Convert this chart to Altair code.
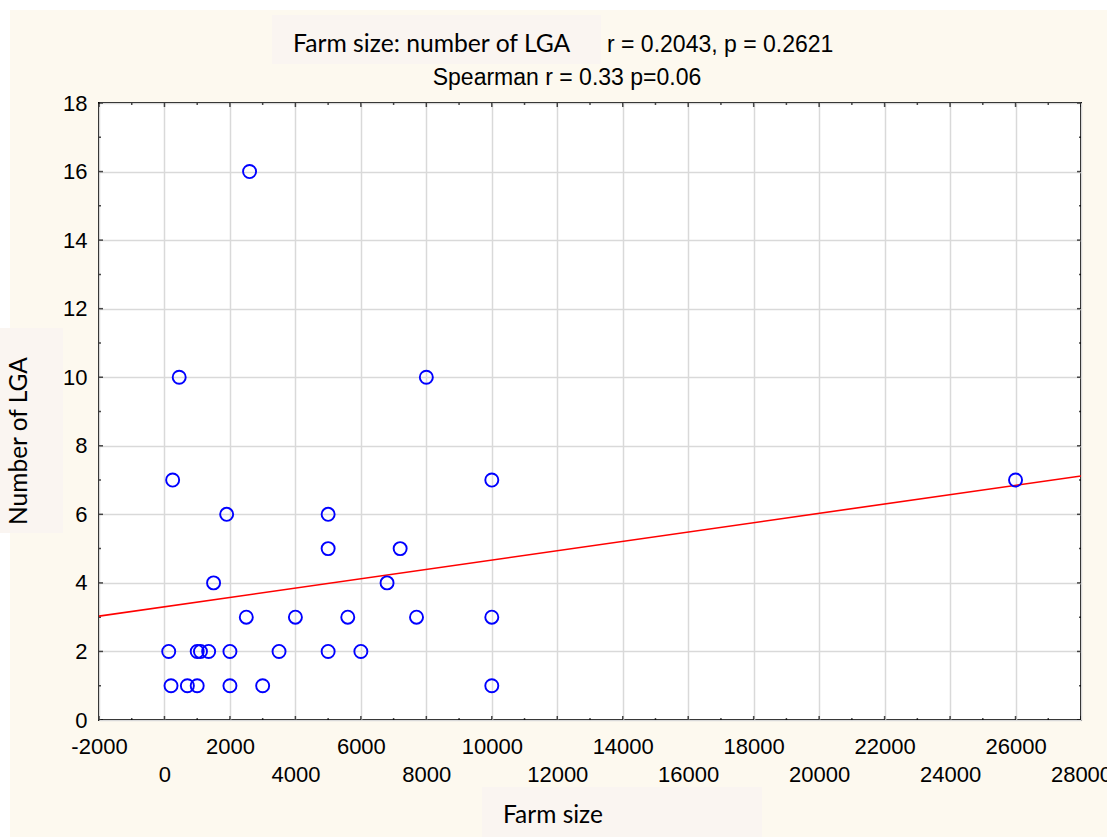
import altair as alt
import pandas as pd

# ---- data ----
farm_size = [2600, 450, 8000, 250, 1900, 5000, 5000, 7200, 1500, 6800, 2500, 4000, 5600, 7700,
             130, 1000, 1100, 1350, 2000, 3500, 5000, 6000,
             200, 700, 1000, 2000, 3000,
             10000, 10000, 10000, 26000]
num_lga = [16, 10, 10, 7, 6, 6, 5, 5, 4, 4, 3, 3, 3, 3,
           2, 2, 2, 2, 2, 2, 2, 2,
           1, 1, 1, 1, 1,
           7, 3, 1, 7]

fit_x = [-2000, 28000]
fit_y = [3.03, 7.12]

x_major = list(range(-2000, 28001, 2000))
x_minor = list(range(-1000, 28000, 2000))
y_major = list(range(0, 19, 2))
y_minor = list(range(1, 18, 2))

title_main = "Farm size: number of LGA"
title_r = "r = 0.2043, p = 0.2621"
title_sp = "Spearman r = 0.33 p=0.06"
x_title = "Farm size"
y_title = "Number of LGA"

# ---- styling ----
W, H = 982, 617
PL, PT = 99, 103
CREAM = "#FDF9EF"
BOX = "#FAF5F1"
GRID = "#D9D9D9"

xs = alt.Scale(domain=[-2000, 28000], nice=False, zero=False)
ys = alt.Scale(domain=[0, 18], nice=False, zero=False)

x_axis = alt.Axis(
    values=x_major, title=None, grid=True, gridColor=GRID, gridWidth=1.5,
    domain=False, ticks=False, labelFlush=False, labelOverlap=False,
    labelFont="Liberation Sans", labelFontSize=22, labelColor="black",
    labelPadding=16, labelLineHeight=28,
    labelExpr="((datum.value / 2000) % 2 == 0) ? ['', toString(datum.value)] : toString(datum.value)")
y_axis = alt.Axis(
    values=y_major, title=None, grid=True, gridColor=GRID, gridWidth=1.5,
    domain=False, ticks=False, labelFont="Liberation Sans", labelFontSize=22,
    labelColor="black", labelPadding=12, labelFlush=False, labelOverlap=False)

pts = pd.DataFrame({"x": farm_size, "y": num_lga})
fit = pd.DataFrame({"x": fit_x, "y": fit_y})
one = pd.DataFrame({"k": [0]})


def rect(x0, x1, y0, y1, color):
    return alt.Chart(one).mark_rect(color=color, strokeWidth=0).encode(
        x=alt.value(x0 - PL), x2=alt.value(x1 - PL),
        y=alt.value(y0 - PT), y2=alt.value(y1 - PT))


def text(t, x, y, font, size, align="left", angle=0):
    return alt.Chart(one).mark_text(
        text=t, font=font, fontSize=size, align=align, baseline="alphabetic",
        color="black", angle=angle).encode(x=alt.value(x - PL), y=alt.value(y - PT))


deco = [
    rect(0, 1107, 0, 10, "white"),
    rect(0, 10, 0, 837, "white"),
    rect(272, 601, 15, 64, BOX),
    rect(482, 762, 787, 837, BOX),
    rect(0, 63, 328, 533, BOX),
    text(title_main, 293, 52, "Lato", 24.7),
    text(title_r, 607, 52, "Liberation Sans", 23),
    text(title_sp, 567, 85, "Liberation Sans", 23, align="center"),
    text(x_title, 503, 823, "Lato", 24.5),
    text(y_title, 27, 441, "Lato", 24.5, align="center", angle=270),
]


def xticks(vals, ypos, size):
    return alt.Chart(pd.DataFrame({"v": vals})).mark_tick(
        orient="vertical", size=size, thickness=1.5, color="black", clip=True).encode(
        x=alt.X("v:Q", scale=xs, axis=x_axis),
        y=alt.YDatum(ypos, scale=ys, axis=y_axis))


def yticks(vals, xpos, size):
    return alt.Chart(pd.DataFrame({"v": vals})).mark_tick(
        orient="horizontal", size=size, thickness=1.5, color="black", clip=True).encode(
        y=alt.Y("v:Q", scale=ys, axis=y_axis),
        x=alt.XDatum(xpos, scale=xs, axis=x_axis))


ticks = [
    xticks(x_major, 0, 8), xticks(x_minor, 0, 4),
    xticks(x_major, 18, 8), xticks(x_minor, 18, 4),
    yticks(y_major, -2000, 8), yticks(y_minor, -2000, 4),
    yticks(y_major, 28000, 8), yticks(y_minor, 28000, 4),
]

line = alt.Chart(fit).mark_line(color="#FF0000", strokeWidth=1.6, clip=True).encode(
    x=alt.X("x:Q", scale=xs, axis=x_axis),
    y=alt.Y("y:Q", scale=ys, axis=y_axis))

points = alt.Chart(pts).mark_point(
    shape="circle", filled=False, color="#0000FF", opacity=1, size=170, strokeWidth=1.9).encode(
    x=alt.X("x:Q", scale=xs, axis=x_axis),
    y=alt.Y("y:Q", scale=ys, axis=y_axis))

chart = alt.layer(*deco, *ticks, line, points).properties(
    width=W, height=H,
    autosize=alt.AutoSizeParams(type="none"),
    padding={"left": PL, "top": PT, "right": 1107 - PL - W, "bottom": 837 - PT - H},
    background=CREAM,
).configure_view(stroke="black", strokeWidth=2, fill="white")

chart.save("out.html", embed_options={"renderer": "svg", "actions": False})
